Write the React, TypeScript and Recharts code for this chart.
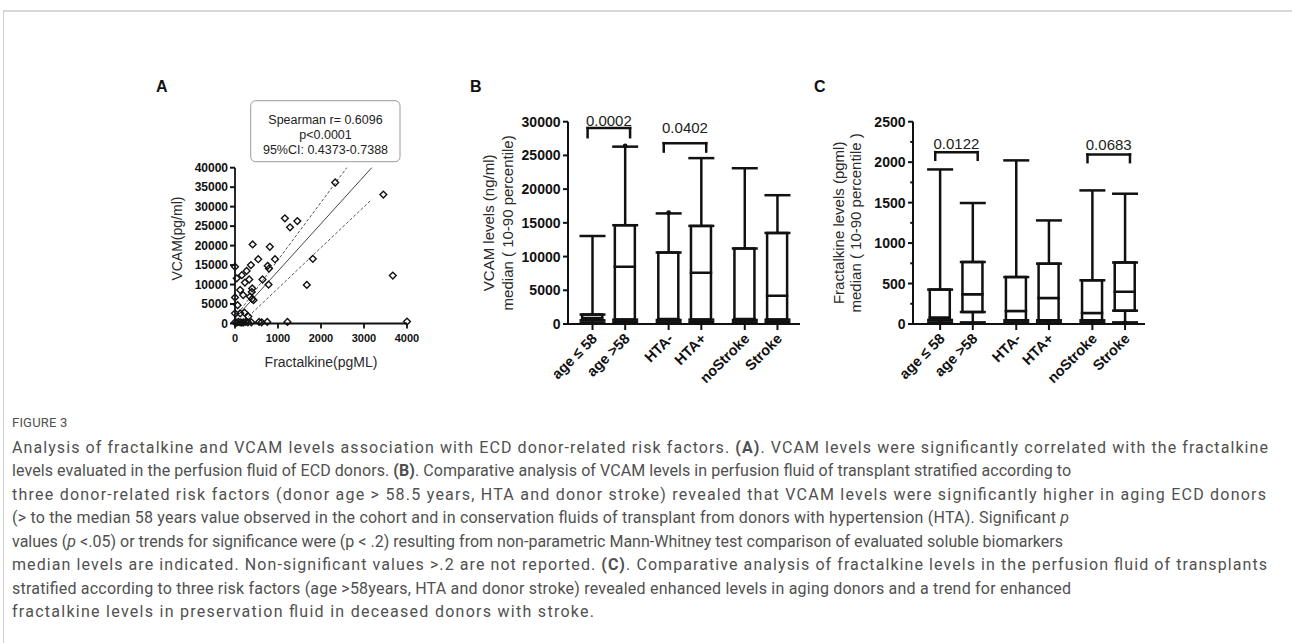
import React from 'react'
import { ComposedChart, Bar, Scatter, XAxis, YAxis, ErrorBar, ReferenceLine, ReferenceDot } from 'recharts'

const FONT = '"Liberation Sans", Arial, Helvetica, sans-serif'
const INK = '#111'
const TITLE = '#2a2a2a'

// ---------- Panel A: fractalkine vs VCAM
const fractalkineA = [2330, 3450, 3670, 4000, 1160, 1280, 1450, 410, 810, 540, 930, 1810, 0, 370, 760, 790, 270, 40, 160, 330, 640, 230, 780, 1670, 120, 400, 390, 190, 350, 400, 430, 0, 60, 0, 120, 220, 310, 0, 40, 80, 120, 160, 200, 250, 300, 380, 560, 620, 750, 1220]
const vcamA = [36200, 33100, 12300, 500, 27000, 24700, 26300, 20300, 19700, 16500, 16500, 16600, 14600, 15000, 14800, 14100, 13500, 11600, 12400, 11300, 11300, 10500, 10000, 9900, 8600, 9000, 8100, 7300, 6900, 6300, 6000, 6700, 4700, 2600, 2600, 2800, 1800, 300, 200, 400, 300, 200, 300, 400, 300, 300, 400, 300, 400, 400]
const fitX = [0, 3180]
const fitY = [1280, 40000]
const ciUpperX = [0, 2600]
const ciUpperY = [1500, 40000]
const ciLowerX = [140, 3180]
const ciLowerY = [0, 31850]
const aXTicks = [0, 1000, 2000, 3000, 4000]
const aYTicks = [0, 5000, 10000, 15000, 20000, 25000, 30000, 35000, 40000]

// ---------- Panels B & C: box plots (10-90 percentile whiskers)
const boxGroups = ['age \u2264 58', 'age >58', 'HTA-', 'HTA+', 'noStroke', 'Stroke']

const vcamP10 = [200, 300, 250, 300, 250, 300]
const vcamQ1 = [550, 650, 600, 650, 600, 650]
const vcamMedian = [900, 8500, 750, 7600, 750, 4200]
const vcamQ3 = [1400, 14650, 10600, 14550, 11200, 13500]
const vcamP90 = [13050, 26300, 16400, 24600, 23100, 19100]
const vcamOutGroup = [1, 2]
const vcamOutValue = [26400, 16500]
const bYTicks = [0, 5000, 10000, 15000, 20000, 25000, 30000]
const bBracketFrom = [0, 2]
const bBracketTo = [1, 3]
const bBracketTop = [29050, 26820]
const bBracketLeg = [27700, 25570]
const bBracketText = [29390, 28300]
const bBracketP = ['0.0002', '0.0402']

const fkP10 = [20, 20, 20, 20, 20, 20]
const fkQ1 = [50, 148, 46, 46, 46, 165]
const fkMedian = [80, 367, 160, 321, 136, 400]
const fkQ3 = [425, 766, 580, 746, 540, 760]
const fkP90 = [1910, 1495, 2022, 1280, 1651, 1610]
const fkOutGroup = [0, 2, 3, 4, 5]
const fkOutValue = [12, 12, 15, 12, 15]
const cYTicks = [0, 250, 500, 750, 1000, 1250, 1500, 1750, 2000, 2250, 2500]
const cBracketFrom = [0, 4]
const cBracketTo = [1, 5]
const cBracketTop = [2124, 2096]
const cBracketLeg = [2030, 2000]
const cBracketText = [2166, 2145]
const cBracketP = ['0.0122', '0.0683']

const GROUP_GAP = 0.33
const slot = (i: number) => 1 + i + Math.floor(i / 2) * GROUP_GAP

function boxRows(p10: number[], q1: number[], med: number[], q3: number[], p90: number[]) {
  return boxGroups.map((name, i) => ({
    name,
    pos: slot(i),
    base: q1[i],
    lower: med[i] - q1[i],
    upper: q3[i] - med[i],
    q1: q1[i],
    q3: q3[i],
    errLow: [q1[i] - p10[i], 0],
    errHigh: [0, p90[i] - q3[i]],
  }))
}

const Diamond = (p: any) => {
  const { cx, cy } = p
  if (cx == null || cy == null) return <g />
  const r = 3.4
  return <path d={`M${cx},${cy - r}L${cx + r},${cy}L${cx},${cy + r}L${cx - r},${cy}Z`} fill="none" stroke={INK} strokeWidth={1.4} />
}
const NoDot = () => <g />
const OutDot = (p: any) => (p.cx == null ? <g /> : <circle cx={p.cx} cy={p.cy} r={2.4} fill={INK} />)

const YTick = (p: any) => {
  const { x, y, payload, major, size, len, gap } = p
  const axisX = x + gap + len
  const isMajor = payload.value % major === 0
  return (
    <g>
      <line x1={axisX - (isMajor ? len : len * 0.55)} x2={axisX} y1={y} y2={y} stroke={INK} strokeWidth={2} />
      {isMajor && (
        <text x={x} y={y} dy="0.36em" textAnchor="end" fill={INK} fontSize={size} fontWeight={700} fontFamily={FONT}>
          {payload.value}
        </text>
      )}
    </g>
  )
}

const SlantTick = (p: any) => {
  const { x, y, payload } = p
  const i = boxGroups.findIndex((_, k) => Math.abs(slot(k) - payload.value) < 0.01)
  const tx = x + 2
  const ty = y + 4
  return (
    <text x={tx} y={ty} dy="0.35em" transform={`rotate(-45 ${tx} ${ty})`} textAnchor="end" fill={INK} fontSize={14.5} fontWeight={700} fontFamily={FONT}>
      {boxGroups[i]}
    </text>
  )
}

const yTitle = (lines: string[], dx: number, gap: number, size: number, dy = 0) => (props: any) => {
  const vb = props.viewBox || { x: 0, y: 0, width: 0, height: 0 }
  const cy = vb.y + vb.height / 2 + dy
  return (
    <g>
      {lines.map((t, i) => {
        const x = vb.x + dx + i * gap
        return (
          <text key={i} x={x} y={cy} transform={`rotate(-90 ${x} ${cy})`} textAnchor="middle" dominantBaseline="central" fill={TITLE} fontSize={size} fontFamily={FONT}>
            {t}
          </text>
        )
      })}
    </g>
  )
}

const xTitle = (text: string, dy: number, size: number) => (props: any) => {
  const vb = props.viewBox || { x: 0, y: 0, width: 0, height: 0 }
  return (
    <text x={vb.x + vb.width / 2} y={vb.y + dy} textAnchor="middle" dominantBaseline="central" fill={TITLE} fontSize={size} fontFamily={FONT}>
      {text}
    </text>
  )
}

function PanelA() {
  const points = fractalkineA.map((x, i) => ({ x, y: vcamA[i] }))
  return (
    <ComposedChart width={300} height={320} margin={{ top: 107.7, right: 33, bottom: 16.5, left: 0 }}>
      <XAxis
        type="number"
        dataKey="x"
        domain={[0, 4000]}
        ticks={aXTicks}
        interval={0}
        height={40}
        tickSize={5}
        tickMargin={6}
        axisLine={{ stroke: INK, strokeWidth: 1.8 }}
        tickLine={{ stroke: INK, strokeWidth: 1.8 }}
        tick={{ fill: INK, fontSize: 11, fontWeight: 700, fontFamily: FONT }}
        label={xTitle('Fractalkine(pgML)', 38.5, 14)}
      />
      <YAxis
        type="number"
        dataKey="y"
        domain={[0, 40000]}
        ticks={aYTicks}
        interval={0}
        width={95}
        tickSize={5}
        tickMargin={2}
        axisLine={{ stroke: INK, strokeWidth: 1.8 }}
        tickLine={false}
        tick={<YTick major={5000} size={12} len={5} gap={2} />}
        label={yTitle(['VCAM(pg/ml)'], 36.7, 0, 14, -7)}
      />
      <ReferenceLine segment={[{ x: fitX[0], y: fitY[0] }, { x: fitX[1], y: fitY[1] }]} stroke="#444" strokeWidth={1} />
      <ReferenceLine segment={[{ x: ciUpperX[0], y: ciUpperY[0] }, { x: ciUpperX[1], y: ciUpperY[1] }]} stroke="#555" strokeWidth={1} strokeDasharray="3 2" />
      <ReferenceLine segment={[{ x: ciLowerX[0], y: ciLowerY[0] }, { x: ciLowerX[1], y: ciLowerY[1] }]} stroke="#555" strokeWidth={1} strokeDasharray="3 2" />
      <Scatter data={points} dataKey="y" shape={Diamond} isAnimationActive={false} />
    </ComposedChart>
  )
}

function BoxPanel(props: {
  rows: any[]
  outGroup: number[]
  outValue: number[]
  yMax: number
  yTicks: number[]
  major: number
  xDomain: [number, number]
  from: number[]
  to: number[]
  top: number[]
  leg: number[]
  textLevel: number[]
  pValues: string[]
  titles: string[]
  titleDx: number
  titleGap: number
}) {
  const { rows, outGroup, outValue, yMax, yTicks, major, xDomain } = props
  const outliers = outGroup.map((g, i) => ({ pos: slot(g), value: outValue[i] }))
  const lineStyle = { stroke: INK, strokeWidth: 2.5, strokeLinecap: 'square' as const }
  return (
    <ComposedChart width={380} height={330} data={rows} barSize={20} margin={{ top: 61.7, right: 20, bottom: 6, left: 0 }}>
      <XAxis
        type="number"
        dataKey="pos"
        domain={xDomain}
        ticks={rows.map((r) => r.pos)}
        interval={0}
        height={60}
        tickSize={6}
        tickMargin={2}
        axisLine={{ stroke: INK, strokeWidth: 2 }}
        tickLine={{ stroke: INK, strokeWidth: 2 }}
        tick={<SlantTick />}
      />
      <YAxis
        type="number"
        domain={[0, yMax]}
        ticks={yTicks}
        interval={0}
        width={128}
        tickSize={5}
        tickMargin={2.5}
        axisLine={{ stroke: INK, strokeWidth: 2 }}
        tickLine={false}
        tick={<YTick major={major} size={14} len={5} gap={2.5} />}
        label={yTitle(props.titles, props.titleDx, props.titleGap, 15)}
      />
      <Bar dataKey="base" stackId="box" fill="none" stroke="none" isAnimationActive={false} />
      <Bar dataKey="lower" stackId="box" fill="#fff" stroke={INK} strokeWidth={2.5} isAnimationActive={false} />
      <Bar dataKey="upper" stackId="box" fill="#fff" stroke={INK} strokeWidth={2.5} isAnimationActive={false} />
      <Scatter dataKey="q1" shape={NoDot} isAnimationActive={false}>
        <ErrorBar dataKey="errLow" direction="y" width={13} stroke={INK} strokeWidth={2.5} isAnimationActive={false} />
      </Scatter>
      <Scatter dataKey="q3" shape={NoDot} isAnimationActive={false}>
        <ErrorBar dataKey="errHigh" direction="y" width={13} stroke={INK} strokeWidth={2.5} isAnimationActive={false} />
      </Scatter>
      <Scatter data={outliers} dataKey="value" shape={OutDot} isAnimationActive={false} />
      {props.from.map((f, k) => {
        const x1 = slot(f) - 0.15
        const x2 = slot(props.to[k]) + 0.15
        const y = props.top[k]
        const yl = props.leg[k]
        const p = props.pValues[k]
        return (
          <React.Fragment key={k}>
            <ReferenceLine segment={[{ x: x1, y }, { x: x2, y }]} {...lineStyle} />
            <ReferenceLine segment={[{ x: x1, y }, { x: x1, y: yl }]} {...lineStyle} />
            <ReferenceLine segment={[{ x: x2, y }, { x: x2, y: yl }]} {...lineStyle} />
            <ReferenceDot
              x={(x1 + x2) / 2}
              y={props.textLevel[k]}
              r={0}
              fill="none"
              stroke="none"
              label={(lp: any) => {
                const vb = lp.viewBox || { x: 0, y: 0, width: 0, height: 0 }
                return (
                  <text x={vb.x + vb.width / 2} y={vb.y + vb.height / 2} textAnchor="middle" fill="#222" fontSize={15} fontFamily={FONT}>
                    {p}
                  </text>
                )
              }}
            />
          </React.Fragment>
        )
      })}
    </ComposedChart>
  )
}

const captionLines: [string, string][][] = [
  [['Analysis of fractalkine and VCAM levels association with ECD donor-related risk factors. ', ''], ['(A)', 'b'], ['. VCAM levels were significantly correlated with the fractalkine', '']],
  [['levels evaluated in the perfusion fluid of ECD donors. ', ''], ['(B)', 'b'], ['. Comparative analysis of VCAM levels in perfusion fluid of transplant stratified according to', '']],
  [['three donor-related risk factors (donor age > 58.5 years, HTA and donor stroke) revealed that VCAM levels were significantly higher in aging ECD donors', '']],
  [['(> to the median 58 years value observed in the cohort and in conservation fluids of transplant from donors with hypertension (HTA). Significant ', ''], ['p', 'i']],
  [['values (', ''], ['p', 'i'], [' <.05) or trends for significance were (p < .2) resulting from non-parametric Mann-Whitney test comparison of evaluated soluble biomarkers', '']],
  [['median levels are indicated. Non-significant values >.2 are not reported. ', ''], ['(C)', 'b'], ['. Comparative analysis of fractalkine levels in the perfusion fluid of transplants', '']],
  [['stratified according to three risk factors (age >58years, HTA and donor stroke) revealed enhanced levels in aging donors and a trend for enhanced', '']],
  [['fractalkine levels in preservation fluid in deceased donors with stroke.', '']],
]
const captionWidths = [1256, 1059, 1254, 1057, 1051, 1255, 1059, 582]

export default function App() {
  return (
    <div style={{ position: 'absolute', left: 0, top: 0, width: 1292, height: 643, background: '#fff', overflow: 'hidden' }}>
      <div style={{ position: 'absolute', left: 140, top: 60 }}>
        <PanelA />
      </div>
      <div style={{ position: 'absolute', left: 440, top: 60 }}>
        <BoxPanel
          rows={boxRows(vcamP10, vcamQ1, vcamMedian, vcamQ3, vcamP90)}
          outGroup={vcamOutGroup}
          outValue={vcamOutValue}
          yMax={30000}
          yTicks={bYTicks}
          major={5000}
          xDomain={[0.25, 7.35]}
          from={bBracketFrom}
          to={bBracketTo}
          top={bBracketTop}
          leg={bBracketLeg}
          textLevel={bBracketText}
          pValues={bBracketP}
          titles={['VCAM levels (ng/ml)', 'median ( 10-90 percentile)']}
          titleDx={48.3}
          titleGap={19}
        />
      </div>
      <div style={{ position: 'absolute', left: 785, top: 60 }}>
        <BoxPanel
          rows={boxRows(fkP10, fkQ1, fkMedian, fkQ3, fkP90)}
          outGroup={fkOutGroup}
          outValue={fkOutValue}
          yMax={2500}
          yTicks={cYTicks}
          major={500}
          xDomain={[0.17, 7.27]}
          from={cBracketFrom}
          to={cBracketTo}
          top={cBracketTop}
          leg={cBracketLeg}
          textLevel={cBracketText}
          pValues={cBracketP}
          titles={['Fractalkine levels (pgml)', 'median ( 10-90 percentile )']}
          titleDx={53.3}
          titleGap={17}
        />
      </div>
      <svg width={1292} height={643} style={{ position: 'absolute', left: 0, top: 0, pointerEvents: 'none' }}>
        <rect x={3} y={10} width={1289} height={2} fill="#d8d8d8" />
        <rect x={3} y={10} width={1} height={633} fill="#d0d0d0" />
        <g fontFamily={FONT} fontWeight={700} fontSize={16} fill={INK}>
          <text x={156} y={91.7}>A</text>
          <text x={470} y={91.7}>B</text>
          <text x={814} y={91.7}>C</text>
        </g>
        <rect x={250.7} y={100.7} width={149.3} height={61} rx={5} fill="#fff" stroke="#9a9a9a" strokeWidth={1} />
        <g fontFamily={FONT} fontSize={12.5} fill="#222" textAnchor="middle">
          <text x={325.5} y={124}>Spearman r= 0.6096</text>
          <text x={325.5} y={139.3}>p&lt;0.0001</text>
          <text x={325.5} y={154.3}>95%CI: 0.4373-0.7388</text>
        </g>
        <g fontFamily="Roboto, 'Open Sans', sans-serif" fill="#505050">
          <text x={12} y={427} fontSize={13} letterSpacing={0.2}>FIGURE 3</text>
          {captionLines.map((segs, i) => (
            <text key={i} x={12} y={452.5 + i * 23.57} fontSize={16} textLength={captionWidths[i]} lengthAdjust="spacing" style={{ whiteSpace: 'pre' }}>
              {segs.map(([t, s], k) => (
                <tspan key={k} fontWeight={s === 'b' ? 700 : 400} fontStyle={s === 'i' ? 'italic' : 'normal'}>
                  {t}
                </tspan>
              ))}
            </text>
          ))}
        </g>
      </svg>
    </div>
  )
}
